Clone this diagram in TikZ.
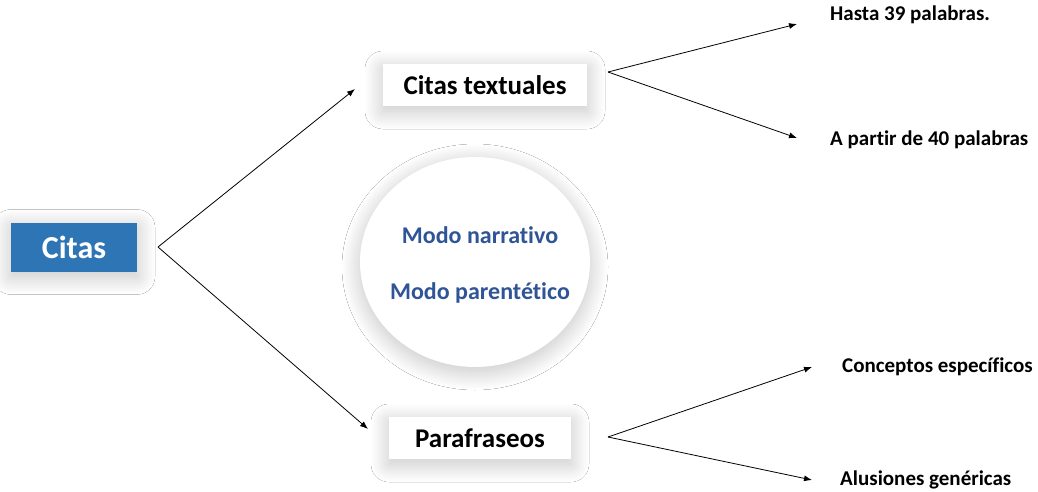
\documentclass[tikz,border=0pt]{standalone}
\usepackage{fontspec}
\setmainfont{Carlito}[Ligatures=NoCommon]
\usetikzlibrary{arrows.meta,shapes.geometric,shadows.blur}
\definecolor{citasblue}{HTML}{2E75B6}
\definecolor{modoblue}{HTML}{2F5597}
\tikzset{
  softshadow/.style={blur shadow={shadow xshift=0pt,shadow yshift=-5pt,
      shadow blur radius=18pt,shadow blur steps=30,shadow opacity=24}},
  whitebox/.style={draw=none,fill=white,softshadow,font=\bfseries\fontsize{27}{32}\selectfont,
      minimum height=42pt,inner sep=0pt},
  leaf/.style={anchor=west,font=\bfseries\fontsize{21}{25}\selectfont,inner sep=0pt},
  branch/.style={-{Latex[length=8pt,width=6pt]},line width=0.8pt}
}
\begin{document}
\begin{tikzpicture}[x=1pt,y=-1pt]
\useasboundingbox [fill=white] (0,0) rectangle (1038,492);
%-------------- Citas --------------------
\node (Citas) [fill=citasblue,softshadow,text=white,font=\bfseries\fontsize{32}{38}\selectfont,
  minimum width=126pt,minimum height=49pt,inner sep=0pt] at (74,247) {Citas};
\coordinate (C0) at (158,247);
\coordinate (C1) at (355,89);
\coordinate (C2) at (368,429);

\draw [branch] (C0) -- (C1);
\draw [branch] (C0) -- (C2);
%-------------- modos --------------------
\node (Modos) [ellipse,fill=white,softshadow,minimum width=230pt,minimum height=210pt] at (475,262) {};
\node (M1) [text=modoblue,font=\bfseries\fontsize{24}{28}\selectfont] at (480,235) {Modo narrativo};
\node (M2) [text=modoblue,font=\bfseries\fontsize{24}{28}\selectfont] at (480,293) {Modo parentético};
%--------------- Citas textuales ----------------------
\node (T) [whitebox,minimum width=204pt] at (485,85) {Citas textuales};
\coordinate (T0) at (608,72);
\coordinate (T1) at (797,24);
\coordinate (T2) at (797,138);

\draw [branch] (T0) -- (T1);
\draw [branch] (T0) -- (T2);

\node (T1l) [leaf] at (830,15) {Hasta 39 palabras.};
\node (T2l) [leaf] at (830,140) {A partir de 40 palabras};
%--------------- Parafraseos ----------------------
\node (P) [whitebox,minimum width=182pt] at (480,438) {Parafraseos};
\coordinate (P0) at (608,437);
\coordinate (P1) at (812,367);
\coordinate (P2) at (812,480);

\draw [branch] (P0) -- (P1);
\draw [branch] (P0) -- (P2);

\node (P1l) [leaf] at (842,367) {Conceptos específicos};
\node (P2l) [leaf] at (840,480) {Alusiones genéricas};
\end{tikzpicture}
\end{document}
